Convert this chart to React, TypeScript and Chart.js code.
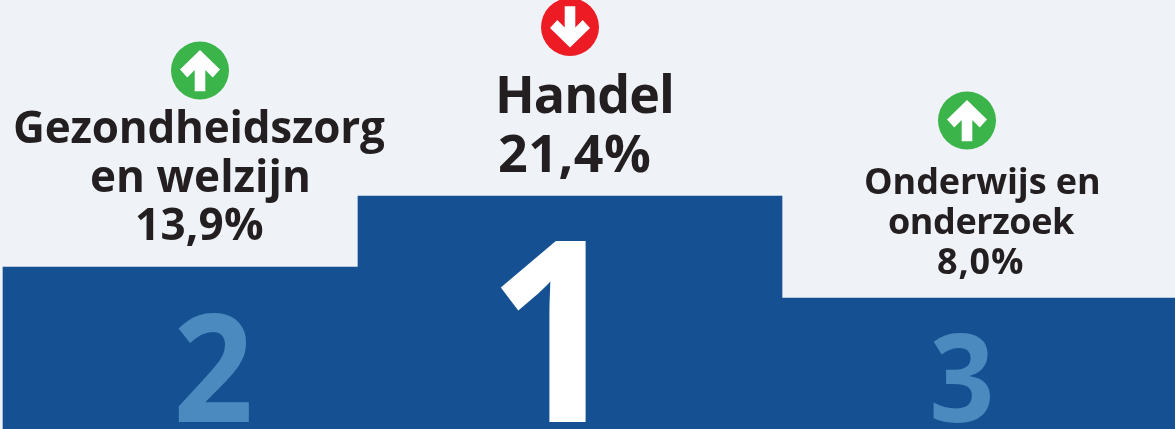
import React, { useEffect, useRef } from "react";
import { Chart, registerables } from "chart.js";

Chart.register(...registerables);

const categories = ["Gezondheidszorg en welzijn", "Handel", "Onderwijs en onderzoek"];
const shares = ["13,9%", "21,4%", "8,0%"];
const ranks = ["2", "1", "3"];
const trends = ["up", "down", "up"];
const podiumHeights = [162, 233, 131];
const podiumCentres = [180.5, 570, 978.5];
const podiumWidths = [355, 424, 393];

const FONT = '"Open Sans", sans-serif';
const INK = "#231F20";
const PAPER = "#EFF2F7";

// [text, ink left, baseline, font size, ink width]
const textLayout: [string, number, number, number, number][] = [
  ["Gezondheidszorg", 15, 143, 44, 370],
  ["en welzijn", 91, 192, 44, 217],
  [shares[0], 137, 240, 44, 126],
  ["Handel", 499, 113, 52, 172],
  [shares[1], 499, 172, 52, 151],
  ["Onderwijs en", 866, 194, 36, 232],
  ["onderzoek", 889, 234, 36, 186],
  [shares[2], 938, 274, 36, 85],
];
// ink left, ink width, baseline, font size, colour
const rankLayout: [number, number, number, number, string][] = [
  [178, 71, 422, 150, "#4A8ABF"],
  [500, 86, 422, 253, "#FFFFFF"],
  [933, 57, 422, 122, "#4A8ABF"],
];
const iconCentres: [number, number][] = [[200, 70.5], [570, 27], [967, 120.5]];
const arrow: [number, number][] = [
  [0, -20.5], [20, -1], [12.7, 7], [5.3, -0.4], [5.3, 20.7],
  [-5.3, 20.7], [-5.3, -0.4], [-12.7, 7], [-20, -1],
];

const podiumLabels = {
  id: "podiumLabels",
  afterDatasetsDraw(chart: any) {
    const ctx = chart.ctx;
    ctx.save();
    ctx.textAlign = "left";
    ctx.textBaseline = "alphabetic";
    for (const [text, left, base, size, width] of textLayout) {
      ctx.font = `700 ${size}px ${FONT}`;
      ctx.letterSpacing = "0px";
      const m = ctx.measureText(text);
      const ink = m.actualBoundingBoxLeft + m.actualBoundingBoxRight;
      const gap = (width - ink) / (text.length - 1);
      ctx.letterSpacing = `${gap}px`;
      ctx.fillStyle = INK;
      ctx.fillText(text, left + m.actualBoundingBoxLeft, base);
    }
    ctx.letterSpacing = "0px";
    ranks.forEach((rank, i) => {
      const [left, width, base, size, color] = rankLayout[i];
      ctx.font = `700 ${size}px ${FONT}`;
      const m = ctx.measureText(rank);
      const ink = m.actualBoundingBoxLeft + m.actualBoundingBoxRight;
      ctx.save();
      ctx.translate(left, base);
      ctx.scale(width / ink, 1);
      ctx.fillStyle = color;
      ctx.fillText(rank, m.actualBoundingBoxLeft, 0);
      ctx.restore();
    });
    trends.forEach((trend, i) => {
      const [cx, cy] = iconCentres[i];
      const dir = trend === "up" ? 1 : -1;
      ctx.fillStyle = trend === "up" ? "#3BB54A" : "#ED1C24";
      ctx.beginPath();
      ctx.arc(cx, cy, 29, 0, Math.PI * 2);
      ctx.fill();
      ctx.fillStyle = "#FFFFFF";
      ctx.beginPath();
      arrow.forEach(([dx, dy], k) => {
        if (k === 0) ctx.moveTo(cx + dx, cy + dy * dir);
        else ctx.lineTo(cx + dx, cy + dy * dir);
      });
      ctx.closePath();
      ctx.fill();
    });
    ctx.restore();
  },
};

export default function App() {
  const ref = useRef<HTMLCanvasElement>(null);
  useEffect(() => {
    document.body.style.margin = "0";
    document.body.style.background = PAPER;
    const chart = new Chart(ref.current!, {
      type: "bar",
      data: {
        datasets: categories.map((name, i) => ({
          label: name,
          data: [{ x: podiumCentres[i], y: podiumHeights[i] }],
          backgroundColor: "#155192",
          borderWidth: 0,
          barThickness: podiumWidths[i],
          grouped: false,
        })),
      },
      options: {
        animation: false,
        responsive: false,
        layout: { padding: 0 },
        plugins: { legend: { display: false }, tooltip: { enabled: false } },
        scales: {
          x: { type: "linear", display: false, min: 0, max: 1175, offset: false },
          y: { display: false, min: 0, max: 429 },
        },
      },
      plugins: [podiumLabels],
    } as any);
    return () => chart.destroy();
  }, []);
  return (
    <div style={{ width: 1175, height: 429, background: PAPER, overflow: "hidden" }}>
      <canvas ref={ref} width={1175} height={429} style={{ display: "block" }} />
    </div>
  );
}
